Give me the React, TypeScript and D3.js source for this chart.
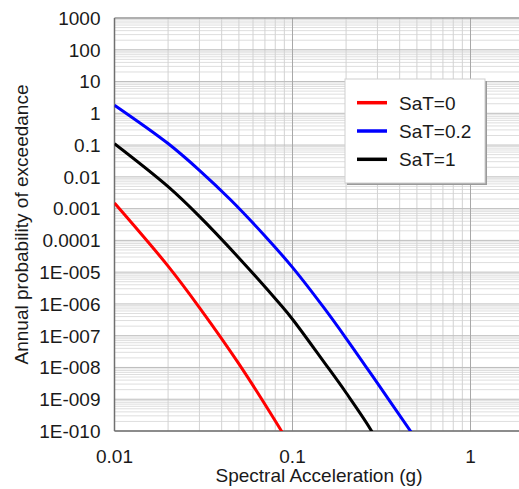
import React from "react";
import * as d3 from "d3";

// series: [Sa (g), annual probability of exceedance]
const sat0: [number, number][] = [
  [0.01, 1.5e-3], [0.02, 1.55e-5], [0.03, 7.7e-7], [0.05, 1.3e-8], [0.085, 1.2e-10], [0.09, 7e-11],
];
const sat02: [number, number][] = [
  [0.01, 1.8], [0.02, 0.112], [0.03, 0.0161], [0.045, 1.87e-3], [0.07, 1.38e-4], [0.1, 1.41e-5],
  [0.15, 7.6e-7], [0.2, 8.3e-8], [0.3, 3.2e-9], [0.46, 1e-10], [0.5, 5e-11],
];
const sat1: [number, number][] = [
  [0.01, 0.11], [0.02, 4.9e-3], [0.03, 5.7e-4], [0.05, 2.8e-5], [0.085, 9.9e-7], [0.1, 3.3e-7],
  [0.15, 1.5e-8], [0.2, 1.6e-9], [0.278, 1e-10], [0.3, 4e-11],
];

const seriesNames = ["SaT=0", "SaT=0.2", "SaT=1"];
const seriesColors = ["#ff0000", "#0000ff", "#000000"];
const seriesData = [sat0, sat02, sat1];

const xTickValues = [0.01, 0.1, 1];
const xTickLabels = ["0.01", "0.1", "1"];
const yTickValues = [1e-10, 1e-9, 1e-8, 1e-7, 1e-6, 1e-5, 1e-4, 1e-3, 1e-2, 0.1, 1, 10, 100, 1000];
const yTickLabels = [
  "1E-010", "1E-009", "1E-008", "1E-007", "1E-006", "1E-005",
  "0.0001", "0.001", "0.01", "0.1", "1", "10", "100", "1000",
];

const W = 519;
const H = 489;
const FONT = "'Liberation Sans', Arial, sans-serif";

export default function App() {
  const left = 114.5;
  const top = 18;
  const bottom = 431;
  const x = d3.scaleLog().domain([0.01, 2]).range([left, left + 178 * Math.log10(200)]);
  const y = d3.scaleLog().domain([1e-10, 1000]).range([bottom, top]);

  const line = d3
    .line<[number, number]>()
    .x((d) => x(d[0]))
    .y((d) => y(d[1]))
    .curve(d3.curveCatmullRom);

  // minor grid positions (2..9 in each decade)
  const xMinor: number[] = [];
  for (let e = -2; e <= 0; e++)
    for (let m = 2; m <= 9; m++) {
      const v = m * Math.pow(10, e);
      if (v <= 2) xMinor.push(v);
    }
  const yMinor: number[] = [];
  for (let e = -10; e < 3; e++)
    for (let m = 2; m <= 9; m++) yMinor.push(m * Math.pow(10, e));

  const right = W + 2;

  return (
    <svg
      width={W}
      height={H}
      style={{ position: "absolute", left: 0, top: 0, background: "#fff" }}
      fontFamily={FONT}
    >
      <defs>
        <clipPath id="plotClip">
          <rect x={left} y={top} width={right - left} height={bottom - top} />
        </clipPath>
      </defs>

      {/* grid */}
      <g>
        {yMinor.map((v, i) => (
          <line key={"ym" + i} x1={left} x2={right} y1={y(v)} y2={y(v)} stroke="#dedede" strokeWidth={1} />
        ))}
        {xMinor.map((v, i) => (
          <line key={"xm" + i} x1={x(v)} x2={x(v)} y1={top} y2={bottom} stroke="#d2d2d2" strokeWidth={1} />
        ))}
        {yTickValues.map((v, i) => (
          <line key={"yM" + i} x1={left} x2={right} y1={y(v)} y2={y(v)} stroke="#bdbdbd" strokeWidth={1} />
        ))}
        {xTickValues.map((v, i) => (
          <line key={"xM" + i} x1={x(v)} x2={x(v)} y1={top} y2={bottom} stroke="#a8a8a8" strokeWidth={1} />
        ))}
      </g>

      {/* frame */}
      <line x1={left} x2={right} y1={top} y2={top} stroke="#808080" strokeWidth={1} />
      <line x1={left} x2={left} y1={top} y2={bottom} stroke="#707070" strokeWidth={1.5} />
      <line x1={left} x2={right} y1={bottom} y2={bottom} stroke="#707070" strokeWidth={1.5} />

      {/* curves */}
      <g clipPath="url(#plotClip)">
        {seriesData.map((s, i) => (
          <path key={i} d={line(s) || ""} fill="none" stroke={seriesColors[i]} strokeWidth={3} />
        ))}
      </g>

      {/* y ticks */}
      {yTickValues.map((v, i) => (
        <text key={"yt" + i} x={100.5} y={y(v)} dy="0.36em" textAnchor="end" fontSize={19} fill="#1a1a1a">
          {yTickLabels[i]}
        </text>
      ))}
      {/* x ticks */}
      {xTickValues.map((v, i) => (
        <text key={"xt" + i} x={x(v)} y={462.5} textAnchor="middle" fontSize={19} fill="#1a1a1a">
          {xTickLabels[i]}
        </text>
      ))}

      <text x={319} y={481.5} textAnchor="middle" fontSize={19} fill="#1a1a1a">
        Spectral Acceleration (g)
      </text>
      <text
        transform={`translate(28,${(top + bottom) / 2}) rotate(-90)`}
        textAnchor="middle"
        fontSize={19}
        fill="#1a1a1a"
      >
        Annual probability of exceedance
      </text>

      {/* legend */}
      <g>
        <rect x={347} y={81} width={140} height={104} fill="#9a9a9a" />
        <rect x={345} y={79} width={140} height={104} fill="#fff" stroke="#cfcfcf" strokeWidth={1} />
        {seriesNames.map((n, i) => {
          const ly = 102.7 + i * 28.3;
          return (
            <g key={n}>
              <line x1={357} x2={387} y1={ly} y2={ly} stroke={seriesColors[i]} strokeWidth={3.5} />
              <text x={399} y={ly} dy="0.36em" fontSize={19} fill="#1a1a1a">
                {n}
              </text>
            </g>
          );
        })}
      </g>
    </svg>
  );
}
